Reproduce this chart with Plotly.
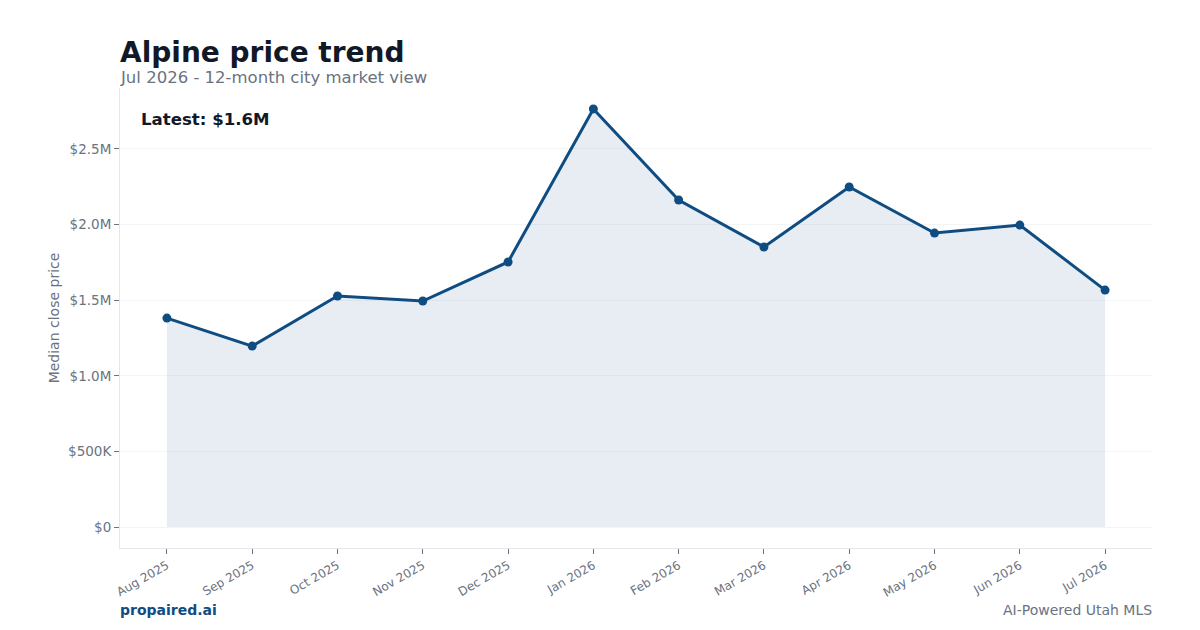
import plotly.graph_objects as go

months = ["Aug 2025", "Sep 2025", "Oct 2025", "Nov 2025", "Dec 2025", "Jan 2026",
          "Feb 2026", "Mar 2026", "Apr 2026", "May 2026", "Jun 2026", "Jul 2026"]
median_price = [1382000, 1197000, 1528000, 1495000, 1753000, 2765000,
                2163000, 1852000, 2249000, 1944000, 1997000, 1567000]
y_tick_vals = [0, 500000, 1000000, 1500000, 2000000, 2500000]
y_tick_text = ["$0", "$500K", "$1.0M", "$1.5M", "$2.0M", "$2.5M"]

FONT = "DejaVu Sans"
BLUE = "#0f4c81"
GRAY = "#6b7280"

fig = go.Figure()
fig.add_trace(go.Scatter(
    x=months, y=median_price, mode="lines+markers",
    line=dict(color=BLUE, width=3),
    marker=dict(size=9, color=BLUE),
    fill="tozeroy", fillcolor="rgba(15,76,129,0.10)",
    hoverinfo="skip", showlegend=False,
))

ymax = max(median_price)
fig.update_layout(
    width=1200, height=630,
    margin=dict(l=120, r=48, t=88, b=82),
    paper_bgcolor="white", plot_bgcolor="white",
    font=dict(family=FONT, color=GRAY, size=13),
    xaxis=dict(
        type="category", range=[-0.55, len(months) - 0.45],
        tickangle=-30, tickfont=dict(size=12, color=GRAY),
        showgrid=False, showline=True, linecolor="#e5e7eb", linewidth=1,
        ticks="outside", ticklen=5, tickcolor="#6b7280",
    ),
    yaxis=dict(
        range=[-0.05 * ymax, 1.05 * ymax],
        tickvals=y_tick_vals, ticktext=y_tick_text,
        tickfont=dict(size=13.5, color=GRAY),
        showgrid=True, gridcolor="#f3f4f6", gridwidth=1,
        showline=True, linecolor="#e5e7eb", linewidth=1,
        ticks="outside", ticklen=5, tickcolor="#6b7280",
        zeroline=False,
        title=dict(text="Median close price", font=dict(size=14, color=GRAY), standoff=5),
    ),
    annotations=[
        dict(text="<b>Alpine price trend</b>", xref="paper", yref="paper",
             x=0, y=1, xanchor="left", yanchor="middle", yshift=36, xshift=-2,
             showarrow=False, font=dict(size=28, color="#111827", family=FONT)),
        dict(text="Jul 2026 - 12-month city market view", xref="paper", yref="paper",
             x=0, y=1, xanchor="left", yanchor="middle", yshift=11, xshift=-2,
             showarrow=False, font=dict(size=16.5, color=GRAY, family=FONT)),
        dict(text="<b>Latest: $1.6M</b>", xref="paper", yref="paper",
             x=0, y=1, xanchor="left", yanchor="middle", yshift=-31, xshift=19,
             showarrow=False, font=dict(size=16.6, color="#111827", family=FONT)),
        dict(text="<b>propaired.ai</b>", xref="paper", yref="paper",
             x=0, y=0, xanchor="left", yanchor="middle", yshift=-62, xshift=-2,
             showarrow=False, font=dict(size=14, color=BLUE, family=FONT)),
        dict(text="AI-Powered Utah MLS", xref="paper", yref="paper",
             x=1, y=0, xanchor="right", yanchor="middle", yshift=-62, xshift=2,
             showarrow=False, font=dict(size=14, color=GRAY, family=FONT)),
    ],
)

fig.write_html("out.html")
